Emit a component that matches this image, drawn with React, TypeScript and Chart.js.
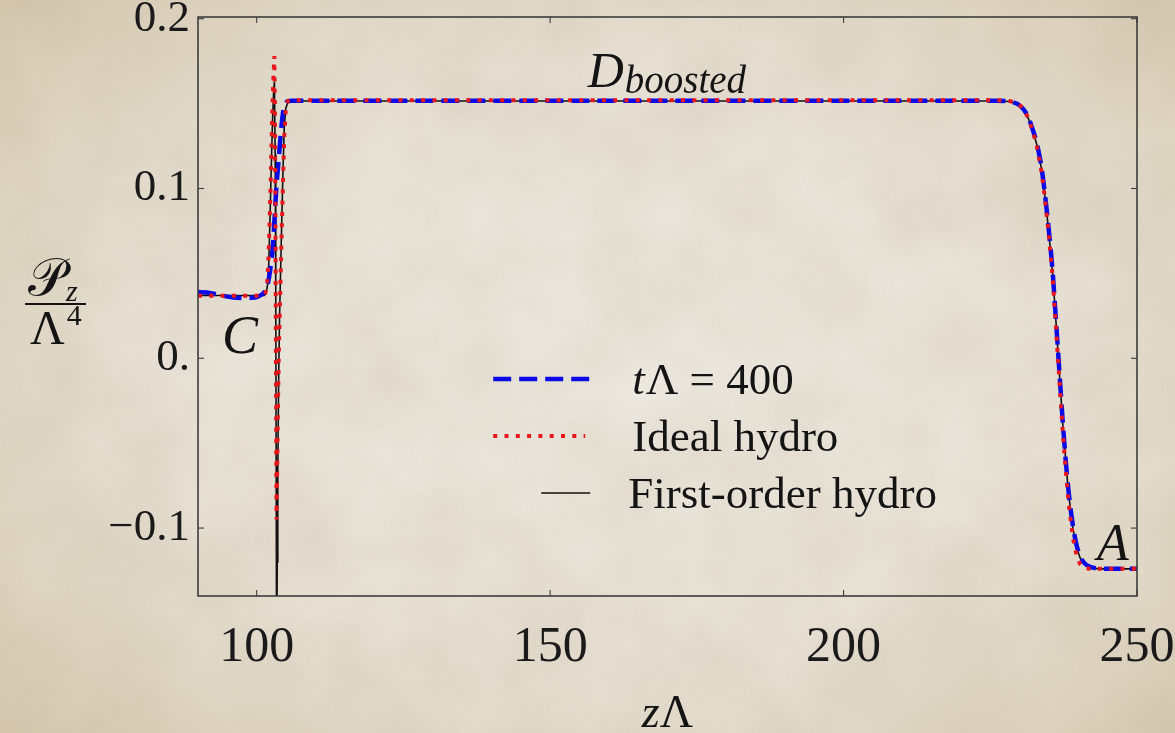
import React, { useEffect, useRef } from "react";
import { Chart, registerables } from "chart.js";

Chart.register(...registerables);

// ---------- axis ticks ----------
const xTicks = [100, 150, 200, 250];
const xTickLabels = ["100", "150", "200", "250"];
const yTicks = [-0.1, 0, 0.1, 0.2];
const yTickLabels = ["\u22120.1", "0.", "0.1", "0.2"];

// ---------- series: tΛ = 400 (blue dashed) ----------
const boostX = [
  90, 91.5, 93, 94.5, 96, 97.5, 99, 100.3, 101.2, 101.8, 102.3, 102.8, 103.1, 103.4, 103.7,
  104.1, 104.5, 104.9, 105.4, 106, 130, 160, 190, 220, 226, 228.3, 229.5, 230.3, 231, 231.7,
  232.3, 232.9, 233.7, 234.3, 234.9, 235.6, 236.2, 236.8, 237.4, 238.3, 239.1, 239.7, 240.3,
  241, 242, 243.5, 246, 250,
];
const boostY = [
  0.039, 0.0388, 0.0378, 0.0366, 0.0358, 0.0355, 0.0356, 0.0365, 0.0385, 0.0425, 0.052, 0.068,
  0.086, 0.103, 0.115, 0.132, 0.145, 0.15, 0.1515, 0.1517, 0.1517, 0.1517, 0.1517, 0.1517,
  0.1517, 0.1512, 0.15, 0.148, 0.145, 0.14, 0.134, 0.127, 0.113, 0.097, 0.078, 0.052, 0.022,
  -0.009, -0.04, -0.077, -0.099, -0.11, -0.1165, -0.1205, -0.1228, -0.1238, -0.124, -0.124,
];

// ---------- series: Ideal hydro (red dotted) ----------
const idealX = [
  90, 95, 101.2, 101.5, 101.8, 102, 102.2, 102.4, 102.55, 102.7, 102.85, 103, 103.1, 103.2,
  103.3, 103.38, 103.48, 103.6, 103.75, 103.95, 104.2, 104.45, 104.7, 104.95, 105.3, 105.8,
  130, 160, 190, 220, 226, 228.3, 229.5, 230.3, 231, 231.7, 232.3, 232.9, 233.7, 234.3, 234.9,
  235.6, 236.2, 236.8, 237.4, 238.3, 239.1, 239.7, 240.3, 241, 242, 250,
];
const idealY = [
  0.0368, 0.0368, 0.0368, 0.0385, 0.045, 0.058, 0.08, 0.106, 0.129, 0.15, 0.165, 0.178, 0.15,
  0.08, -0.02, -0.095, -0.07, -0.035, 0.0, 0.03, 0.065, 0.1, 0.13, 0.146, 0.1515, 0.152, 0.152,
  0.152, 0.152, 0.152, 0.152, 0.1515, 0.1502, 0.1482, 0.145, 0.1395, 0.133, 0.1255, 0.1105,
  0.0945, 0.075, 0.049, 0.018, -0.014, -0.046, -0.084, -0.106, -0.116, -0.1212, -0.1235, -0.124,
  -0.124,
];

// ---------- series: First-order hydro (black solid) ----------
const firstX = [
  90, 95, 101.3, 101.6, 101.85, 102.05, 102.25, 102.45, 102.7, 102.9, 103.02, 103.15, 103.25,
  103.32, 103.38, 103.42, 103.5, 103.6, 103.75, 103.9, 104.1, 104.3, 104.5, 104.7, 104.95,
  105.3, 105.8, 130, 160, 190, 220, 226, 228.3, 229.5, 230.3, 231, 231.7, 232.3, 232.9, 233.7,
  234.3, 234.9, 235.6, 236.2, 236.8, 237.4, 238.3, 239.1, 239.7, 240.3, 241, 242, 243.5, 250,
];
const firstY = [
  0.037, 0.037, 0.037, 0.0385, 0.043, 0.055, 0.08, 0.108, 0.14, 0.158, 0.163, 0.12, 0.04, -0.06,
  -0.16, -0.2, -0.12, -0.065, -0.01, 0.025, 0.055, 0.085, 0.113, 0.136, 0.147, 0.1508, 0.1515,
  0.1515, 0.1515, 0.1515, 0.1515, 0.1515, 0.1512, 0.1498, 0.1478, 0.1447, 0.1395, 0.1335,
  0.1262, 0.112, 0.096, 0.0765, 0.051, 0.021, -0.01, -0.041, -0.0785, -0.1005, -0.1115,
  -0.1175, -0.121, -0.1232, -0.124, -0.124,
];

const seriesNames = ["t\u039B = 400", "Ideal hydro", "First-order hydro"];
const seriesColors = ["#0a0ae6", "#e8151b", "#111111"];

// annotation anchors in data units
const labelD = { x: 156.4, y: 0.16 };
const labelC = { x: 94.1, y: 0.003 };
const labelA = { x: 243.2, y: -0.1188 };
const legendAnchor = { x: 140.3, y: -0.0122 };

const SERIF = '"Liberation Serif", "DejaVu Serif", serif';

const NOISE =
  "url(\"data:image/svg+xml;utf8,<svg xmlns='http://www.w3.org/2000/svg' width='1175' height='733'><filter id='n'><feTurbulence type='fractalNoise' baseFrequency='0.9' numOctaves='2' seed='3' stitchTiles='stitch'/><feColorMatrix values='0 0 0 0 0.42  0 0 0 0 0.36  0 0 0 0 0.26  0 0 0 0.16 0'/></filter><filter id='m'><feTurbulence type='fractalNoise' baseFrequency='0.012' numOctaves='3' seed='7'/><feColorMatrix values='0 0 0 0 0.55  0 0 0 0 0.47  0 0 0 0 0.33  0 0 0 0.35 -0.08'/></filter><rect width='100%' height='100%' filter='url(%23m)'/><rect width='100%' height='100%' filter='url(%23n)'/></svg>\")";

function pts(xs: number[], ys: number[]) {
  return xs.map((x, i) => ({ x, y: ys[i] }));
}

const decor = {
  id: "decor",
  afterDatasetsDraw(chart: any) {
    const { ctx, chartArea: a, scales } = chart;
    const sx = scales.x;
    const sy = scales.y;
    const line = (x1: number, y1: number, x2: number, y2: number) => {
      ctx.beginPath();
      ctx.moveTo(x1, y1);
      ctx.lineTo(x2, y2);
      ctx.stroke();
    };
    const text = (s: string, x: number, y: number, size: number, italic = false, align: CanvasTextAlign = "left") => {
      ctx.font = `${italic ? "italic " : ""}${size}px ${SERIF}`;
      ctx.textAlign = align;
      ctx.textBaseline = "alphabetic";
      ctx.fillText(s, x, y);
      return ctx.measureText(s).width;
    };
    ctx.save();
    // frame
    ctx.setLineDash([]);
    ctx.strokeStyle = "#3d3d3d";
    ctx.lineWidth = 1.6;
    ctx.strokeRect(a.left, a.top, a.right - a.left, a.bottom - a.top);
    // inward ticks
    ctx.lineWidth = 1.1;
    xTicks.forEach((v) => {
      const px = sx.getPixelForValue(v);
      line(px, a.bottom, px, a.bottom - 6);
      line(px, a.top, px, a.top + 6);
    });
    yTicks.forEach((v) => {
      const py = sy.getPixelForValue(v);
      line(a.left, py, a.left + 6, py);
      line(a.right, py, a.right - 6, py);
    });

    ctx.fillStyle = "#141414";
    // D_boosted
    const dx = sx.getPixelForValue(labelD.x);
    const dy = sy.getPixelForValue(labelD.y);
    const wD = text("D", dx, dy, 50, true);
    text("boosted", dx + wD + 1, dy + 6, 39, true);
    // C and A
    text("C", sx.getPixelForValue(labelC.x), sy.getPixelForValue(labelC.y), 54, true);
    text("A", sx.getPixelForValue(labelA.x), sy.getPixelForValue(labelA.y), 52, true);

    // legend
    const lx = sx.getPixelForValue(legendAnchor.x);
    const ly = sy.getPixelForValue(legendAnchor.y);
    const rowGap = 57;
    const samples = [
      { x1: lx, x2: lx + 97, dash: [18, 8], width: 4.5 },
      { x1: lx, x2: lx + 92, dash: [4, 7.3], width: 4 },
      { x1: lx + 48, x2: lx + 97, dash: [], width: 1.6 },
    ];
    samples.forEach((s, i) => {
      const yy = ly + i * rowGap;
      ctx.strokeStyle = seriesColors[i];
      ctx.lineWidth = s.width;
      ctx.setLineDash(s.dash);
      line(s.x1, yy, s.x2, yy);
    });
    ctx.setLineDash([]);
    ctx.fillStyle = "#141414";
    const wt = text("t", lx + 139, ly + 15, 45, true);
    text(seriesNames[0].slice(1), lx + 139 + wt + 1, ly + 15, 45, false);
    text(seriesNames[1], lx + 139, ly + rowGap + 15, 45, false);
    text(seriesNames[2], lx + 135, ly + 2 * rowGap + 15, 45, false);

    // y-axis label: P_z / Λ^4
    const barY = 304;
    const wP = text("\uD835\uDCAB", 28, 295, 52, false);
    text("z", 28 + wP + 1, 301, 30, true);
    ctx.strokeStyle = "#141414";
    ctx.lineWidth = 2;
    line(25, barY, 86, barY);
    const wL = text("\u039B", 30, 344, 48, false);
    text("4", 30 + wL + 2, 325, 30, false);

    // x-axis label: zΛ
    ctx.font = `italic 46px ${SERIF}`;
    const wz = ctx.measureText("z").width;
    ctx.font = `46px ${SERIF}`;
    const wl = ctx.measureText("\u039B").width;
    const cx = (a.left + a.right) / 2;
    const start = cx - (wz + wl) / 2;
    text("z", start, 727, 46, true);
    text("\u039B", start + wz, 727, 46, false);

    ctx.restore();
  },
};

export default function App() {
  const ref = useRef<HTMLCanvasElement | null>(null);
  useEffect(() => {
    if (!ref.current) return;
    const chart = new Chart(ref.current, {
      type: "line",
      data: {
        datasets: [
          {
            label: seriesNames[1],
            data: pts(idealX, idealY),
            borderColor: seriesColors[1],
            borderWidth: 4,
            borderDash: [4, 7.3],
            pointRadius: 0,
            tension: 0,
            order: 0,
          },
          {
            label: seriesNames[0],
            data: pts(boostX, boostY),
            borderColor: seriesColors[0],
            borderWidth: 4.5,
            borderDash: [18, 8],
            pointRadius: 0,
            cubicInterpolationMode: "monotone",
            order: 1,
          },
          {
            label: seriesNames[2],
            data: pts(firstX, firstY),
            borderColor: seriesColors[2],
            borderWidth: 1.6,
            pointRadius: 0,
            tension: 0,
            order: 2,
          },
        ],
      },
      options: {
        responsive: false,
        animation: false,
        events: [],
        layout: { padding: { left: 0, right: 38, top: 17, bottom: 0 } },
        plugins: { legend: { display: false }, tooltip: { enabled: false } },
        scales: {
          x: {
            type: "linear",
            min: 90,
            max: 250,
            grid: { display: false, drawTicks: false },
            border: { display: false },
            afterBuildTicks: (s: any) => {
              s.ticks = xTicks.map((v) => ({ value: v }));
            },
            afterFit: (s: any) => {
              s.height = 137;
              s.paddingLeft = 0;
              s.paddingRight = 0;
            },
            ticks: {
              autoSkip: false,
              maxRotation: 0,
              padding: 22,
              color: "#1a1a1a",
              font: { family: SERIF, size: 50 },
              callback: (v: any) => {
                const i = xTicks.indexOf(Number(v));
                return i >= 0 ? xTickLabels[i] : "";
              },
            },
          },
          y: {
            type: "linear",
            min: -0.14,
            max: 0.201,
            grid: { display: false, drawTicks: false },
            border: { display: false },
            afterBuildTicks: (s: any) => {
              s.ticks = yTicks.map((v) => ({ value: v }));
            },
            afterFit: (s: any) => {
              s.width = 198;
              s.paddingTop = 0;
              s.paddingBottom = 0;
            },
            ticks: {
              autoSkip: false,
              padding: 8,
              color: "#1a1a1a",
              font: { family: SERIF, size: 45 },
              callback: (v: any) => {
                const i = yTicks.findIndex((t) => Math.abs(t - Number(v)) < 1e-9);
                return i >= 0 ? yTickLabels[i] : "";
              },
            },
          },
        },
      },
      plugins: [decor],
    } as any);
    return () => chart.destroy();
  }, []);

  return (
    <div
      style={{
        position: "fixed",
        left: 0,
        top: 0,
        width: 1175,
        height: 733,
        backgroundImage:
          NOISE +
          ", radial-gradient(ellipse 70% 72% at 52% 50%, #f1eee7 0%, #ede8de 50%, #e3dac8 80%, #d8cbb2 100%)",
      }}
    >
      <canvas ref={ref} width={1175} height={733} style={{ display: "block" }} />
    </div>
  );
}
